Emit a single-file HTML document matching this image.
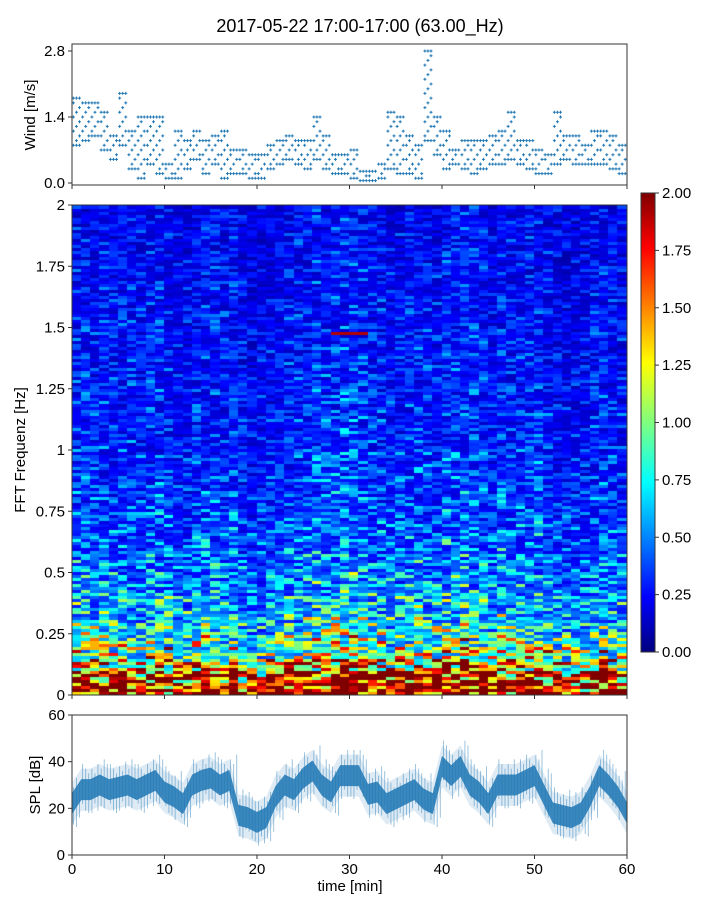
<!DOCTYPE html>
<html><head><meta charset="utf-8">
<style>
body{margin:0;background:#fff;width:720px;height:900px;overflow:hidden;font-family:"Liberation Sans",sans-serif;}
#wrap{position:relative;width:720px;height:900px;}
svg{position:absolute;left:0;top:0;}
canvas{position:absolute;}
</style></head>
<body>
<div id="wrap">
<canvas id="heat" width="555" height="490" style="left:72px;top:205px"></canvas>
<div style="position:absolute;left:641px;top:193px;width:14px;height:459px;background:linear-gradient(to top,#00007f,#0000ff 12%,#00ffff 37%,#7fff7f 50%,#ffff00 63%,#ff0000 88%,#7f0000);"></div>
<svg id="svg" width="720" height="900"></svg>
</div>
<script>
const windMinutes=[0,1,2,3,4,5,6,7,8,9,10,11,12,13,14,15,16,17,18,19,20,21,22,23,24,25,26,27,28,29,30,31,32,33,34,35,36,37,38,39,40,41,42,43,44,45,46,47,48,49,50,51,52,53,54,55,56,57,58,59];
const windMax=[1.8,1.7,1.7,1.5,1.0,1.9,1.1,1.4,1.4,1.4,0.4,1.1,0.9,1.1,0.9,1.0,1.1,0.7,0.7,0.6,0.6,0.8,0.9,1.0,0.9,0.9,1.4,1.0,0.6,0.6,0.7,0.3,0.3,0.4,1.5,1.4,1.0,0.8,2.8,1.4,1.1,0.7,0.9,0.9,0.9,1.0,1.1,1.5,0.9,0.9,0.7,0.6,1.5,1.0,1.0,0.8,1.1,1.1,1.0,0.8];
const windMin=[0.8,0.9,1.0,0.7,0.5,0.8,0.3,0.1,0.4,0.2,0.1,0.1,0.3,0.5,0.2,0.4,0.1,0.2,0.2,0.1,0.1,0.3,0.4,0.5,0.4,0.3,0.5,0.3,0.2,0.2,0.1,0.05,0.05,0.1,0.3,0.2,0.2,0.1,0.9,0.6,0.3,0.4,0.3,0.2,0.3,0.4,0.4,0.5,0.4,0.3,0.2,0.2,0.4,0.5,0.4,0.4,0.4,0.4,0.3,0.2];
const windTicks=[0.0,1.4,2.8];
const splMinutes=[0,1,2,3,4,5,6,7,8,9,10,11,12,13,14,15,16,17,18,19,20,21,22,23,24,25,26,27,28,29,30,31,32,33,34,35,36,37,38,39,40,41,42,43,44,45,46,47,48,49,50,51,52,53,54,55,56,57,58,59,60];
const splMean=[22,28,28,30,28,29,30,28,30,32,27,25,22,30,32,33,30,32,17,16,14,16,25,30,28,33,36,30,27,34,34,34,26,27,22,24,26,28,24,22,38,34,38,30,27,22,30,30,30,32,34,26,18,17,16,18,25,34,30,25,18];
const splTicks=[0,20,40,60];
const timeTicks=[0,10,20,30,40,50,60];
const freqTicks=[0,0.25,0.5,0.75,1,1.25,1.5,1.75,2];
const freqTickLabels=["0","0.25","0.5","0.75","1","1.25","1.5","1.75","2"];
const cbTicks=[0,0.25,0.5,0.75,1,1.25,1.5,1.75,2];
const freqProfile=[2.4,2.0,1.45,1.1,0.95,0.82,0.72,0.66,0.6,0.55,0.52,0.49,0.46,0.44,0.42,0.4,0.39,0.37,0.36,0.35,0.34,0.33,0.33,0.32,0.32,0.31,0.31,0.3,0.3,0.3,0.29,0.29,0.28,0.28,0.28,0.27,0.27,0.26,0.26,0.25];
const timeGain=[1.0,1.0,0.95,1.0,0.95,1.0,1.0,0.95,1.0,1.05,0.95,0.9,0.85,0.95,1.0,1.0,0.95,1.0,0.85,0.8,0.8,0.85,0.95,1.0,1.0,1.05,1.15,1.1,1.15,1.2,1.2,1.1,1.0,1.0,0.9,0.95,1.0,1.05,1.0,0.95,1.15,1.1,1.15,1.05,1.0,0.9,1.05,1.0,1.0,1.05,1.1,0.95,0.85,0.8,0.8,0.85,0.95,1.0,0.95,0.9];
const texture=[0.55,1.3,0.8,1.7,0.45,1.05,0.7,1.45,0.9,0.6,1.9,0.75,1.2,0.5,1.0,1.55,0.65,0.85,1.35,0.4,1.1,0.95,1.65,0.6,1.25,0.7,0.5,1.4,0.8,1.15,0.55,0.75,1.0,0.45,1.3,0.65,0.9];
const hotSpot={t0:28,t1:32,f0:1.47,f1:1.49,v:1.9};

const NS="http://www.w3.org/2000/svg";
const svg=document.getElementById('svg');
function el(tag,attrs,parent){const e=document.createElementNS(NS,tag);for(const k in attrs)e.setAttribute(k,attrs[k]);(parent||svg).appendChild(e);return e;}
const X0=72,X1=627;
const xT=t=>X0+(X1-X0)*t/60;
const yW=v=>183-v*47.14;
const yF=f=>695-f*245;
const yS=v=>855-v*140/60;
const yC=v=>652-v*229.5;

let t=el('text',{x:360,y:32,'text-anchor':'middle','font-size':18,fill:'#000'});t.textContent='2017-05-22 17:00-17:00 (63.00_Hz)';


const gW=el('g',{});

windMinutes.forEach((m,i)=>{
  for(let s=0;s<3;s++){
    const x=xT(m+s*0.33+0.15);
    let k=0;
    for(let v=windMin[i];v<=windMax[i]+1e-6;v+=0.1,k++){
      if((s*2+k+i)%3!==0 && v<windMax[i]-0.05 && v>windMin[i]+0.05) continue;
      const y=yW(v);
      const p=el('path',{d:`M${x-1.5},${y}h3M${x},${y-1.5}v3`,stroke:'#1f77b4','stroke-width':1},gW);
      
      
    }
  }
});
const gS=el('g',{});

function band(w,op){let up='',dn='';splMinutes.forEach((m,i)=>{up+=(i?'L':'M')+xT(m)+','+yS(Math.min(60,splMean[i]+w));});for(let i=splMinutes.length-1;i>=0;i--)dn+='L'+xT(splMinutes[i])+','+yS(Math.max(0,splMean[i]-w));return el('path',{d:up+dn+'Z',fill:'#1f77b4','fill-opacity':op},gS);}
const b1=band(9,0.15);
const b2=band(4.5,0.85);
splMinutes.forEach((m,i)=>{if(i===60)return;for(let s=0;s<3;s++){const a=[7,11,9][(i+s)%3],b=[9,6,10][(i+2*s)%3];const x=xT(m+s*0.33+0.15);const l=el('line',{x1:x,x2:x,y1:yS(Math.min(60,splMean[i]+a)),y2:yS(Math.max(0,splMean[i]-b)),stroke:'#1f77b4','stroke-width':0.8,'stroke-opacity':0.55},gS);}});

function jet(v){const tt=Math.max(0,Math.min(1,v/2));const c=x=>Math.round(255*Math.max(0,Math.min(1,1.5-Math.abs(4*tt-x))));return `rgb(${c(3)},${c(2)},${c(1)})`;}
const ctx=document.getElementById('heat').getContext('2d');
const nRows=163;
for(let c=0;c<60;c++){
  for(let r=0;r<nRows;r++){
    const f=(r+0.5)*2/nRows;
    const bin=Math.min(39,Math.floor(f/0.05));
    let v=freqProfile[bin]*timeGain[c]*texture[(r*r*7+c*13+(r*c)%11)%texture.length];
    if(c>=hotSpot.t0&&c<hotSpot.t1&&f>=hotSpot.f0&&f<=hotSpot.f1)v=hotSpot.v;
    ctx.fillStyle=jet(v);
    const x0=Math.floor((X1-X0)*c/60),x1=Math.floor((X1-X0)*(c+1)/60);
    const y1=490-Math.floor(490*r/nRows),y0=490-Math.floor(490*(r+1)/nRows);
    ctx.fillRect(x0,y0,x1-x0,y1-y0);
  }
}

[['wind-axes',44,185],['spectrogram-axes',205,695],['spl-axes',715,855]].forEach(a=>{const r=el('rect',{x:X0,y:a[1],width:X1-X0,height:a[2]-a[1],fill:'none',stroke:'#333','stroke-width':1});});
function ytick(y,label,name){el('line',{x1:X0-4,x2:X0,y1:y,y2:y,stroke:'#333'});const tx=el('text',{x:X0-7,y:y+5,'text-anchor':'end','font-size':15,fill:'#000'});tx.textContent=label;}
windTicks.forEach(v=>ytick(yW(v),v.toFixed(1),'wind-y-tick'));
freqTicks.forEach((v,i)=>ytick(yF(v),freqTickLabels[i],'freq-y-tick'));
splTicks.forEach(v=>ytick(yS(v),String(v),'spl-y-tick'));
timeTicks.forEach(v=>{[185,695,855].forEach(y=>el('line',{x1:xT(v),x2:xT(v),y1:y,y2:y+4,stroke:'#333'}));const tx=el('text',{x:xT(v),y:874,'text-anchor':'middle','font-size':15,fill:'#000'});tx.textContent=String(v);});
cbTicks.forEach(v=>{el('line',{x1:655,x2:659,y1:yC(v),y2:yC(v),stroke:'#333'});const tx=el('text',{x:662,y:yC(v)+5,'font-size':15,fill:'#000'});tx.textContent=v.toFixed(2);});
el('rect',{x:641,y:193,width:14,height:459,fill:'none',stroke:'#333'});
function ylab(x,y,txt,name){const tx=el('text',{x:x,y:y,'text-anchor':'middle','font-size':15,fill:'#000',transform:`rotate(-90 ${x} ${y})`});tx.textContent=txt;}
ylab(35,115,'Wind [m/s]','wind-y-axis-title');
ylab(25,450,'FFT Frequenz [Hz]','freq-y-axis-title');
ylab(40,785,'SPL [dB]','spl-y-axis-title');
const xl=el('text',{x:350,y:891,'text-anchor':'middle','font-size':15,fill:'#000'});xl.textContent='time [min]';

</script>
</body></html>
